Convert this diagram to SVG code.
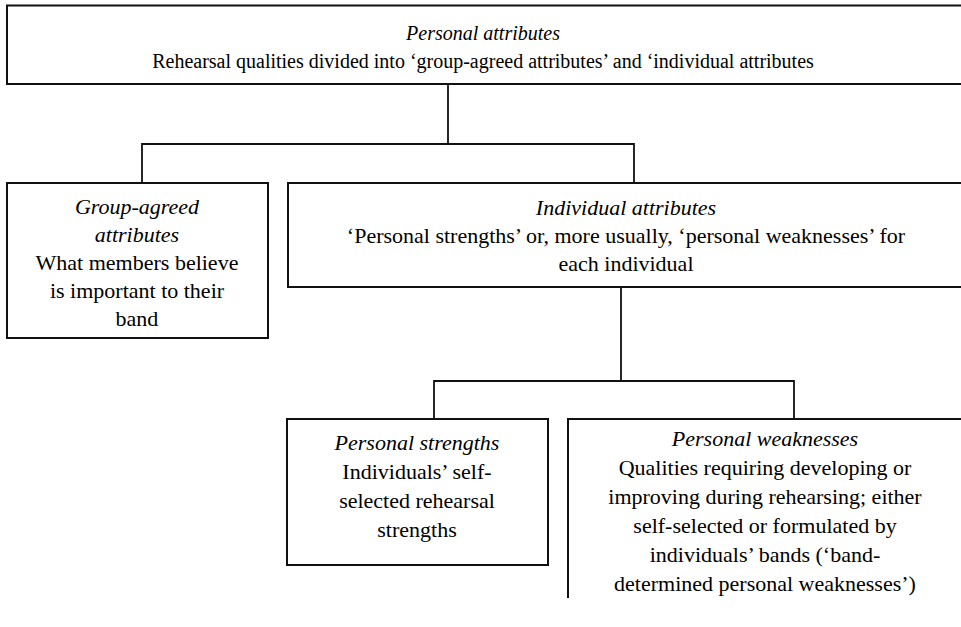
<svg xmlns="http://www.w3.org/2000/svg" width="961" height="627" viewBox="0 0 961 627">
<rect width="961" height="627" fill="#fff"/>
<g id="connectors" fill="none" stroke="#111" stroke-width="1.8">
<path d="M448 84V144M142 183V144H634V183"/>
<path d="M621 287V381M434 419V381H794V419"/>
</g>
<g id="personal-attributes">
<path d="M963 5.5H7V84H963" fill="#fff" stroke="#111" stroke-width="2"/>
<text x="483" y="40" font-family="Liberation Serif" font-size="20" font-style="italic" text-anchor="middle">Personal attributes</text>
<text x="483" y="68" font-family="Liberation Serif" font-size="20" text-anchor="middle">Rehearsal qualities divided into ‘group-agreed attributes’ and ‘individual attributes</text>
</g>
<g id="group-agreed">
<rect x="7" y="183" width="261" height="155" fill="#fff" stroke="#111" stroke-width="2"/>
<text x="137" y="214" font-family="Liberation Serif" font-size="22" font-style="italic" text-anchor="middle">Group-agreed</text>
<text x="137" y="242" font-family="Liberation Serif" font-size="22" font-style="italic" text-anchor="middle">attributes</text>
<text x="137" y="270" font-family="Liberation Serif" font-size="22" text-anchor="middle">What members believe</text>
<text x="137" y="298" font-family="Liberation Serif" font-size="22" text-anchor="middle">is important to their</text>
<text x="137" y="326" font-family="Liberation Serif" font-size="22" text-anchor="middle">band</text>
</g>
<g id="individual-attributes">
<path d="M963 183H288V287H963" fill="#fff" stroke="#111" stroke-width="2"/>
<text x="626" y="215" font-family="Liberation Serif" font-size="22" font-style="italic" text-anchor="middle">Individual attributes</text>
<text x="626" y="243" font-family="Liberation Serif" font-size="22" text-anchor="middle">‘Personal strengths’ or, more usually, ‘personal weaknesses’ for</text>
<text x="626" y="271" font-family="Liberation Serif" font-size="22" text-anchor="middle">each individual</text>
</g>
<g id="personal-strengths">
<rect x="287" y="419" width="261" height="146" fill="#fff" stroke="#111" stroke-width="2"/>
<text x="417" y="450" font-family="Liberation Serif" font-size="22" font-style="italic" text-anchor="middle">Personal strengths</text>
<text x="417" y="479" font-family="Liberation Serif" font-size="22" text-anchor="middle">Individuals’ self-</text>
<text x="417" y="508" font-family="Liberation Serif" font-size="22" text-anchor="middle">selected rehearsal</text>
<text x="417" y="537" font-family="Liberation Serif" font-size="22" text-anchor="middle">strengths</text>
</g>
<g id="personal-weaknesses">
<path d="M963 419H568V598" fill="#fff" stroke="#111" stroke-width="2"/>
<text x="765" y="446" font-family="Liberation Serif" font-size="22" font-style="italic" text-anchor="middle">Personal weaknesses</text>
<text x="765" y="475" font-family="Liberation Serif" font-size="22" text-anchor="middle">Qualities requiring developing or</text>
<text x="765" y="504" font-family="Liberation Serif" font-size="22" text-anchor="middle">improving during rehearsing; either</text>
<text x="765" y="533" font-family="Liberation Serif" font-size="22" text-anchor="middle">self-selected or formulated by</text>
<text x="765" y="562" font-family="Liberation Serif" font-size="22" text-anchor="middle">individuals’ bands (‘band-</text>
<text x="765" y="591" font-family="Liberation Serif" font-size="22" text-anchor="middle">determined personal weaknesses’)</text>
</g>
</svg>
